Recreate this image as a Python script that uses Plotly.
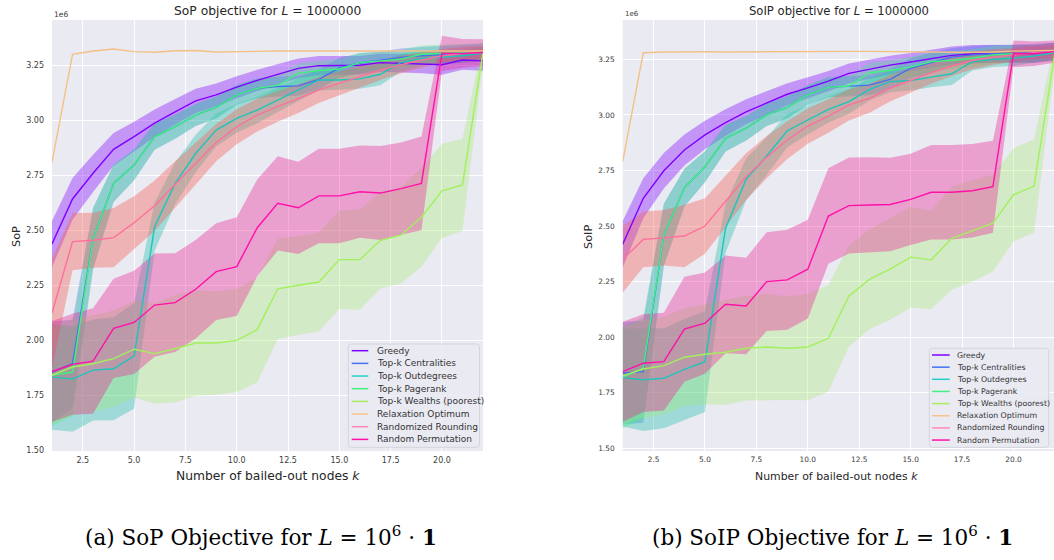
import plotly.graph_objects as go

W, H = 1054, 560

# ---------------- data (values in units of 1e6) ----------------
k = list(range(1, 23))

series_names = ["Greedy", "Top-k Centralities", "Top-k Outdegrees", "Top-k Pagerank",
                "Top-k Wealths (poorest)", "Relaxation Optimum", "Randomized Rounding",
                "Random Permutation"]

# Panel (a): SoP
greedy_a = [2.438, 2.643, 2.76, 2.869, 2.927, 2.988, 3.04, 3.09, 3.117, 3.152, 3.183, 3.212, 3.238, 3.25, 3.25, 3.252, 3.264, 3.26, 3.258, 3.254, 3.276, 3.272]
greedy_a_ci = [0.105, 0.095, 0.085, 0.075, 0.068, 0.062, 0.058, 0.055, 0.052, 0.05, 0.048, 0.046, 0.045, 0.044, 0.043, 0.042, 0.042, 0.042, 0.043, 0.045, 0.045, 0.045]
centr_a = [1.855, 1.893, 2.462, 2.714, 2.798, 2.927, 2.972, 3.025, 3.06, 3.117, 3.147, 3.155, 3.158, 3.188, 3.24, 3.262, 3.275, 3.288, 3.295, 3.3, 3.302, 3.31]
centr_a_ci = [0.23, 0.2, 0.14, 0.085, 0.07, 0.06, 0.055, 0.05, 0.05, 0.045, 0.045, 0.045, 0.045, 0.045, 0.045, 0.045, 0.04, 0.04, 0.04, 0.04, 0.04, 0.04]
outdeg_a = [1.832, 1.823, 1.864, 1.87, 1.928, 2.517, 2.714, 2.85, 2.957, 3.01, 3.048, 3.094, 3.139, 3.185, 3.185, 3.19, 3.211, 3.264, 3.283, 3.288, 3.295, 3.306]
outdeg_a_ci = [0.24, 0.24, 0.23, 0.235, 0.24, 0.11, 0.095, 0.085, 0.075, 0.065, 0.06, 0.055, 0.05, 0.048, 0.045, 0.045, 0.05, 0.04, 0.035, 0.035, 0.03, 0.03]
pager_a = [1.84, 1.855, 2.462, 2.714, 2.798, 2.927, 2.972, 3.025, 3.06, 3.117, 3.147, 3.16, 3.215, 3.228, 3.235, 3.264, 3.272, 3.28, 3.302, 3.306, 3.31, 3.313]
pager_a_ci = [0.23, 0.2, 0.14, 0.085, 0.07, 0.06, 0.055, 0.05, 0.05, 0.045, 0.045, 0.045, 0.045, 0.045, 0.045, 0.045, 0.04, 0.04, 0.04, 0.04, 0.04, 0.04]
wealth_a = [1.84, 1.878, 1.893, 1.916, 1.959, 1.939, 1.961, 1.987, 1.987, 1.999, 2.048, 2.234, 2.25, 2.265, 2.367, 2.367, 2.455, 2.478, 2.56, 2.68, 2.707, 3.31]
wealth_a_ci = [0.22, 0.22, 0.22, 0.22, 0.22, 0.228, 0.245, 0.24, 0.235, 0.235, 0.24, 0.228, 0.225, 0.225, 0.225, 0.228, 0.22, 0.22, 0.225, 0.215, 0.21, 0.05]
relax_a = [2.81, 3.302, 3.317, 3.326, 3.314, 3.311, 3.318, 3.319, 3.312, 3.314, 3.317, 3.317, 3.317, 3.317, 3.317, 3.317, 3.317, 3.316, 3.316, 3.316, 3.317, 3.317]
rround_a = [2.124, 2.449, 2.455, 2.467, 2.535, 2.612, 2.71, 2.805, 2.9, 2.972, 3.025, 3.065, 3.1, 3.14, 3.17, 3.2, 3.23, 3.255, 3.275, 3.295, 3.305, 3.31]
rround_a_ci = [0.25, 0.13, 0.125, 0.135, 0.12, 0.115, 0.105, 0.095, 0.085, 0.08, 0.075, 0.07, 0.065, 0.06, 0.055, 0.05, 0.045, 0.04, 0.035, 0.03, 0.03, 0.03]
rperm_a = [1.857, 1.89, 1.905, 2.054, 2.081, 2.16, 2.171, 2.232, 2.312, 2.335, 2.512, 2.623, 2.603, 2.657, 2.657, 2.676, 2.67, 2.69, 2.714, 3.306, 3.306, 3.31]
rperm_a_ci = [0.23, 0.23, 0.24, 0.226, 0.235, 0.235, 0.225, 0.224, 0.22, 0.225, 0.22, 0.215, 0.21, 0.215, 0.215, 0.21, 0.214, 0.21, 0.213, 0.08, 0.065, 0.06]

# Panel (b): SoIP
greedy_b = [2.418, 2.625, 2.749, 2.842, 2.91, 2.965, 3.014, 3.052, 3.093, 3.122, 3.152, 3.187, 3.205, 3.224, 3.238, 3.254, 3.268, 3.274, 3.276, 3.276, 3.274, 3.285]
greedy_b_ci = [0.105, 0.09, 0.08, 0.07, 0.064, 0.06, 0.056, 0.053, 0.05, 0.048, 0.046, 0.044, 0.043, 0.042, 0.041, 0.04, 0.04, 0.04, 0.04, 0.04, 0.04, 0.04]
centr_b = [1.838, 1.845, 2.46, 2.673, 2.767, 2.895, 2.94, 3.0, 3.034, 3.09, 3.124, 3.13, 3.134, 3.16, 3.21, 3.235, 3.26, 3.27, 3.275, 3.275, 3.28, 3.285]
centr_b_ci = [0.23, 0.23, 0.14, 0.085, 0.07, 0.06, 0.055, 0.05, 0.05, 0.045, 0.045, 0.045, 0.045, 0.045, 0.045, 0.045, 0.04, 0.04, 0.04, 0.04, 0.04, 0.04]
outdeg_b = [1.818, 1.808, 1.815, 1.855, 1.89, 2.49, 2.71, 2.815, 2.929, 2.977, 3.025, 3.06, 3.115, 3.15, 3.155, 3.17, 3.185, 3.24, 3.25, 3.255, 3.265, 3.28]
outdeg_b_ci = [0.22, 0.23, 0.225, 0.227, 0.227, 0.11, 0.095, 0.085, 0.075, 0.065, 0.06, 0.055, 0.05, 0.048, 0.045, 0.045, 0.05, 0.04, 0.035, 0.035, 0.03, 0.03]
pager_b = [1.82, 1.86, 2.46, 2.673, 2.767, 2.895, 2.94, 3.0, 3.034, 3.09, 3.124, 3.13, 3.19, 3.2, 3.215, 3.24, 3.245, 3.255, 3.27, 3.275, 3.275, 3.285]
pager_b_ci = [0.23, 0.23, 0.14, 0.085, 0.07, 0.06, 0.055, 0.05, 0.05, 0.045, 0.045, 0.045, 0.045, 0.045, 0.045, 0.045, 0.04, 0.04, 0.04, 0.04, 0.04, 0.04]
wealth_b = [1.826, 1.857, 1.872, 1.91, 1.923, 1.932, 1.95, 1.956, 1.95, 1.956, 1.995, 2.186, 2.26, 2.306, 2.36, 2.348, 2.445, 2.478, 2.513, 2.64, 2.68, 3.27]
wealth_b_ci = [0.22, 0.22, 0.22, 0.22, 0.225, 0.237, 0.235, 0.24, 0.233, 0.24, 0.24, 0.228, 0.224, 0.228, 0.227, 0.222, 0.232, 0.228, 0.218, 0.21, 0.21, 0.06]
relax_b = [2.79, 3.28, 3.283, 3.285, 3.284, 3.283, 3.284, 3.285, 3.285, 3.286, 3.286, 3.286, 3.286, 3.286, 3.285, 3.283, 3.282, 3.282, 3.283, 3.287, 3.29, 3.29]
rround_b = [2.35, 2.44, 2.447, 2.455, 2.5, 2.61, 2.722, 2.81, 2.887, 2.95, 2.995, 3.045, 3.075, 3.12, 3.155, 3.19, 3.22, 3.245, 3.26, 3.27, 3.28, 3.285]
rround_b_ci = [0.15, 0.125, 0.125, 0.14, 0.125, 0.115, 0.105, 0.095, 0.085, 0.08, 0.075, 0.07, 0.065, 0.06, 0.055, 0.05, 0.045, 0.04, 0.035, 0.03, 0.03, 0.03]
rperm_b = [1.845, 1.883, 1.89, 2.036, 2.063, 2.148, 2.14, 2.25, 2.258, 2.306, 2.545, 2.592, 2.595, 2.597, 2.62, 2.652, 2.652, 2.659, 2.677, 3.275, 3.275, 3.285]
rperm_b_ci = [0.225, 0.22, 0.22, 0.236, 0.228, 0.22, 0.217, 0.222, 0.225, 0.222, 0.215, 0.216, 0.215, 0.21, 0.205, 0.213, 0.213, 0.21, 0.207, 0.06, 0.055, 0.05]

x_ticks = [2.5, 5.0, 7.5, 10.0, 12.5, 15.0, 17.5, 20.0]
y_ticks = [1.50, 1.75, 2.00, 2.25, 2.50, 2.75, 3.00, 3.25]

# ---------------- styles ----------------
line_colors = ["#7f00ff", "#4470ee", "#1cc4bc", "#3ef27c", "#a2f05c", "#f3c185", "#ff6f9c", "#ff10a8"]
fill_colors = ["rgba(127,0,255,0.36)", "rgba(60,110,240,0.33)", "rgba(30,190,170,0.36)",
               "rgba(60,240,130,0.30)", "rgba(160,235,100,0.30)", None,
               "rgba(245,100,90,0.40)", "rgba(235,40,150,0.38)"]
legend_colors = ["#8000ff", "#4470ee", "#22d0c8", "#44f080", "#a6f060", "#f6c48a", "#ff88b8", "#ff10a8"]

panel_a = [(greedy_a, greedy_a_ci), (centr_a, centr_a_ci), (outdeg_a, outdeg_a_ci),
           (pager_a, pager_a_ci), (wealth_a, wealth_a_ci), (relax_a, None),
           (rround_a, rround_a_ci), (rperm_a, rperm_a_ci)]
panel_b = [(greedy_b, greedy_b_ci), (centr_b, centr_b_ci), (outdeg_b, outdeg_b_ci),
           (pager_b, pager_b_ci), (wealth_b, wealth_b_ci), (relax_b, None),
           (rround_b, rround_b_ci), (rperm_b, rperm_b_ci)]

fig = go.Figure()

def add_panel(panel, xa, ya):
    # bands first (below), then all lines on top, like matplotlib's z-order
    for i, (mean, ci) in enumerate(panel):
        if ci is None:
            continue
        up = [m + c for m, c in zip(mean, ci)]
        lo = [m - c for m, c in zip(mean, ci)]
        fig.add_trace(go.Scatter(x=k + k[::-1], y=up + lo[::-1], fill="toself",
                                 fillcolor=fill_colors[i], line=dict(width=0),
                                 mode="lines", hoverinfo="skip", showlegend=False,
                                 xaxis=xa, yaxis=ya))
    for i, (mean, ci) in enumerate(panel):
        fig.add_trace(go.Scatter(x=k, y=mean, mode="lines", name=series_names[i],
                                 line=dict(color=line_colors[i], width=1.4),
                                 showlegend=False, xaxis=xa, yaxis=ya))

add_panel(panel_a, "x", "y")
add_panel(panel_b, "x2", "y2")

def px(x):
    return x / W

def py(y):
    return 1 - y / H

ydom = [py(451), py(20)]
common_x = dict(tickvals=x_ticks, ticktext=[f"{v:.1f}" for v in x_ticks], showgrid=True,
                gridcolor="white", gridwidth=1, zeroline=False, showline=False, ticks="",
                automargin=False, ticklabelstandoff=3)
common_y = dict(tickvals=y_ticks, ticktext=[f"{v:.2f}" for v in y_ticks], showgrid=True,
                gridcolor="white", gridwidth=1, zeroline=False, showline=False, ticks="",
                automargin=False, ticklabelstandoff=7, domain=ydom)

fig.update_layout(
    width=W, height=H, margin=dict(l=0, r=0, t=0, b=0),
    paper_bgcolor="white", plot_bgcolor="#eaeaf2",
    font=dict(family="DejaVu Sans", color="#333333"),
    xaxis=dict(domain=[px(52), px(483)], range=[1, 22], anchor="y",
               tickfont=dict(size=8, color="#3c3c3c"), **common_x),
    yaxis=dict(range=[1.4955, 3.458], anchor="x",
               tickfont=dict(size=8, color="#3c3c3c"), **common_y),
    xaxis2=dict(domain=[px(622.7), 1.0], range=[1, 21.97], anchor="y2",
                tickfont=dict(size=7.4, color="#3c3c3c"), **common_x),
    yaxis2=dict(range=[1.488, 3.427], anchor="x2",
                tickfont=dict(size=7.4, color="#3c3c3c"), **common_y),
    showlegend=False,
)

ann = []
def text(x, y, s, size, **kw):
    d = dict(x=px(x), y=py(y), xref="paper", yref="paper", text=s, showarrow=False,
             xanchor="center", yanchor="middle",
             font=dict(size=size, family=kw.pop("family", "DejaVu Sans"),
                       color=kw.pop("color", "#262626")))
    d.update(kw)
    ann.append(d)

# titles
text(267.5, 11, "SoP objective for <i>L</i> = 1000000", 12.3)
text(838.6, 11, "SoIP objective for <i>L</i> = 1000000", 11.6)
# axis titles
text(267.5, 476, "Number of bailed-out nodes <i>k</i>", 12.3)
text(836.7, 476, "Number of bailed-out nodes <i>k</i>", 10.9)
text(16, 237, "SoP", 11.3, textangle=-90)
text(588, 237, "SoIP", 11.3, textangle=-90)
# offset labels
text(52, 14, "1e6", 7.6, xanchor="left", color="#3c3c3c")
text(623, 14, "1e6", 7, xanchor="left", color="#3c3c3c")
# captions
text(261, 536, "(a) SoP Objective for <i>L</i> = 10<sup>6</sup> · <b>1</b>", 21.5,
     family="DejaVu Serif", color="black")
text(832, 536, "(b) SoIP Objective for <i>L</i> = 10<sup>6</sup> · <b>1</b>", 21.5,
     family="DejaVu Serif", color="black")

shapes = []
def rounded_rect(x0, x1, y0, y1, r):
    # pixel coordinates -> paper-coordinate SVG path with rounded corners
    def P(x, y):
        return f"{px(x):.5f},{py(y):.5f}"
    return (f"M {P(x0 + r, y0)} L {P(x1 - r, y0)} Q {P(x1, y0)} {P(x1, y0 + r)} "
            f"L {P(x1, y1 - r)} Q {P(x1, y1)} {P(x1 - r, y1)} L {P(x0 + r, y1)} "
            f"Q {P(x0, y1)} {P(x0, y1 - r)} L {P(x0, y0 + r)} Q {P(x0, y0)} {P(x0 + r, y0)} Z")

def legend(x0, x1, y0, y1, first_y, step, lx0, lx1, tx, fsize):
    shapes.append(dict(type="path", xref="paper", yref="paper", path=rounded_rect(x0, x1, y0, y1, 3),
                       fillcolor="rgba(234,234,242,0.85)",
                       line=dict(color="#d4d4dc", width=1), layer="above"))
    for i, name in enumerate(series_names):
        yy = first_y + i * step
        shapes.append(dict(type="line", xref="paper", yref="paper", x0=px(lx0), x1=px(lx1),
                           y0=py(yy), y1=py(yy), line=dict(color=legend_colors[i], width=1.5),
                           layer="above"))
        text(tx, yy, name, fsize, xanchor="left", color="#333333")

legend(348.3, 479.5, 344, 447.3, 350.7, 12.67, 351.7, 368.3, 374.5, 9.0)
legend(929.3, 1048.7, 348.3, 447.3, 355.0, 12.15, 932, 949.7, 955.0, 7.8)

fig.update_layout(annotations=ann, shapes=shapes)
fig.write_html("out.html", config={"displayModeBar": False},
               post_script="document.body.style.margin='0px';document.body.style.padding='0px';")
